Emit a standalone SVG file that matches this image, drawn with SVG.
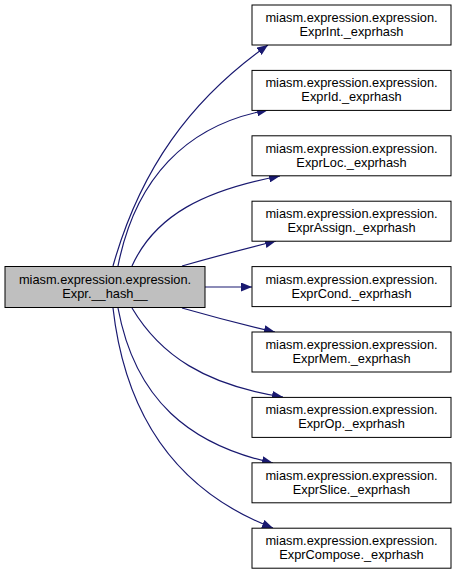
<svg xmlns="http://www.w3.org/2000/svg" width="456" height="575" viewBox="0 0 456 575">
<defs>
<style>
.node rect{fill:#ffffff;stroke:#000000;stroke-width:1}
#n0 rect{fill:#bfbfbf}
text{font-family:"Liberation Sans",Arial,sans-serif;font-size:12.8px;fill:#000000;text-anchor:middle}
.edges path{fill:none;stroke:#191970;stroke-width:1.2}
</style>
<marker id="ah" markerUnits="userSpaceOnUse" markerWidth="12" markerHeight="9" refX="11" refY="4.5" orient="auto">
<path d="M0,0 L11,4.5 L0,9 z" fill="#191970"/>
</marker>
</defs>
<rect width="456" height="575" fill="#ffffff"/>
<g class="edges">
<path marker-end="url(#ah)" d="M113,266 C140,170 190,100 268,45"/>
<path marker-end="url(#ah)" d="M118,266 C135,180 185,125 268,110"/>
<path marker-end="url(#ah)" d="M132,266 C155,215 205,190 280,176"/>
<path marker-end="url(#ah)" d="M182,266 C210,258 240,250 276,241"/>
<path marker-end="url(#ah)" d="M205,287 L252,287"/>
<path marker-end="url(#ah)" d="M182,308 C210,316 240,324 275,332"/>
<path marker-end="url(#ah)" d="M132,308 C160,355 205,385 283,397"/>
<path marker-end="url(#ah)" d="M118,308 C135,400 190,445 273,463"/>
<path marker-end="url(#ah)" d="M113,308 C128,440 200,500 273,528"/>
</g>
<g id="n0" class="node"><rect x="5" y="266.5" width="200" height="41"/><text x="105" y="284">miasm.expression.expression.</text><text x="105" y="298">Expr.__hash__</text></g>
<g id="n1" class="node"><rect x="252" y="5" width="199" height="40"/><text x="351.5" y="22">miasm.expression.expression.</text><text x="351.5" y="36">ExprInt._exprhash</text></g>
<g id="n2" class="node"><rect x="252" y="70.4" width="199" height="40"/><text x="351.5" y="87.4">miasm.expression.expression.</text><text x="351.5" y="101.4">ExprId._exprhash</text></g>
<g id="n3" class="node"><rect x="252" y="135.8" width="199" height="40"/><text x="351.5" y="152.8">miasm.expression.expression.</text><text x="351.5" y="166.8">ExprLoc._exprhash</text></g>
<g id="n4" class="node"><rect x="252" y="201.2" width="199" height="40"/><text x="351.5" y="218.2">miasm.expression.expression.</text><text x="351.5" y="232.2">ExprAssign._exprhash</text></g>
<g id="n5" class="node"><rect x="252" y="266.6" width="199" height="40"/><text x="351.5" y="283.6">miasm.expression.expression.</text><text x="351.5" y="297.6">ExprCond._exprhash</text></g>
<g id="n6" class="node"><rect x="252" y="332" width="199" height="40"/><text x="351.5" y="349">miasm.expression.expression.</text><text x="351.5" y="363">ExprMem._exprhash</text></g>
<g id="n7" class="node"><rect x="252" y="397.4" width="199" height="40"/><text x="351.5" y="414.4">miasm.expression.expression.</text><text x="351.5" y="428.4">ExprOp._exprhash</text></g>
<g id="n8" class="node"><rect x="252" y="462.8" width="199" height="40"/><text x="351.5" y="479.8">miasm.expression.expression.</text><text x="351.5" y="493.8">ExprSlice._exprhash</text></g>
<g id="n9" class="node"><rect x="252" y="528.2" width="199" height="40"/><text x="351.5" y="545.2">miasm.expression.expression.</text><text x="351.5" y="559.2">ExprCompose._exprhash</text></g>
</svg>
